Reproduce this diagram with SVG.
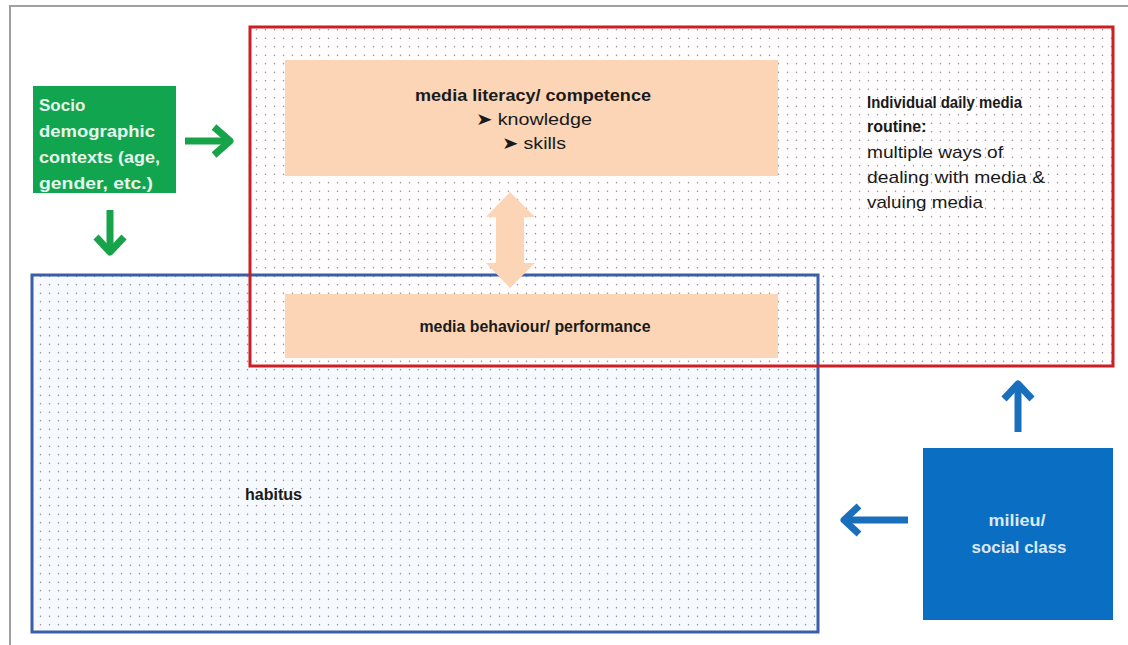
<svg xmlns="http://www.w3.org/2000/svg" width="1128" height="645" viewBox="0 0 1128 645">
<style>
  .t { font-family: "Liberation Sans", Arial, sans-serif; font-size: 16px; fill: #1a1a1a; }
  .b { font-weight: bold; }
  .w { font-weight: bold; font-size: 17px; }
  .g { stroke: #16a34a; stroke-width: 7; fill: none; stroke-linejoin: round; }
  .bl { stroke: #1a6fbd; stroke-width: 7; fill: none; stroke-linejoin: round; }
</style>
<defs>
  <pattern id="dots" width="9" height="8.5" patternUnits="userSpaceOnUse">
    <circle cx="4.5" cy="4.2" r="0.75" fill="#7a7a7a"/>
  </pattern>
</defs>
<rect width="1128" height="645" fill="#ffffff"/>
<path d="M10 645 V6 H1128" fill="none" stroke="#a0a0a0" stroke-width="2"/>

<g id="habitus">
  <rect x="32" y="275" width="786" height="357" fill="#f6f9fd"/>
  <rect x="32" y="275" width="786" height="357" fill="url(#dots)"/>
  <text class="t b" x="245" y="500">habitus</text>
</g>

<g id="routine">
  <rect x="250" y="27" width="863" height="339" fill="#fffdfd"/>
  <rect x="250" y="27" width="863" height="339" fill="url(#dots)"/>
  <text class="t b" x="867" y="108" textLength="155" lengthAdjust="spacingAndGlyphs">Individual daily media</text>
  <text class="t b" x="867" y="132">routine:</text>
  <text class="t" x="867" y="158" style="font-size:17px" textLength="136" lengthAdjust="spacingAndGlyphs">multiple ways of</text>
  <text class="t" x="867" y="183" style="font-size:17px" textLength="178" lengthAdjust="spacingAndGlyphs">dealing with media &amp;</text>
  <text class="t" x="867" y="208" style="font-size:17px" textLength="116" lengthAdjust="spacingAndGlyphs">valuing media</text>
</g>

<g id="borders">
  <rect x="32" y="275" width="786" height="357" fill="none" stroke="#3b5ea8" stroke-width="3"/>
  <rect x="250" y="27" width="863" height="339" fill="none" stroke="#cc1f24" stroke-width="3"/>
</g>

<g id="competence">
  <rect x="285" y="60" width="493" height="116" fill="#fbd5b5"/>
  <text class="t b" x="533" y="101" text-anchor="middle" style="font-size:17px" textLength="236" lengthAdjust="spacingAndGlyphs">media literacy/ competence</text>
  <text class="t" x="534" y="125" text-anchor="middle" style="font-size:17px" textLength="116" lengthAdjust="spacingAndGlyphs">➤  knowledge</text>
  <text class="t" x="534" y="149" text-anchor="middle" style="font-size:17px" textLength="64" lengthAdjust="spacingAndGlyphs">➤  skills</text>
</g>

<g id="performance">
  <rect x="285" y="294" width="493" height="64" fill="#fbd5b5"/>
  <text class="t b" x="535" y="332" text-anchor="middle" textLength="231" lengthAdjust="spacingAndGlyphs">media behaviour/ performance</text>
</g>

<g id="sociodemographic">
  <rect x="33" y="86" width="143" height="107" fill="#12a54f"/>
  <g class="t w" style="fill:#e6f5ec">
    <text x="39" y="111">Socio</text>
    <text x="39" y="137" textLength="116" lengthAdjust="spacingAndGlyphs">demographic</text>
    <text x="39" y="163" textLength="121" lengthAdjust="spacingAndGlyphs">contexts (age,</text>
    <text x="39" y="189" textLength="114" lengthAdjust="spacingAndGlyphs">gender, etc.)</text>
  </g>
</g>

<g id="milieu">
  <rect x="923" y="448" width="190" height="172" fill="#0a6fc2"/>
  <text class="t w" x="1017" y="526" text-anchor="middle" style="fill:#dbe9f6" textLength="57" lengthAdjust="spacingAndGlyphs">milieu/</text>
  <text class="t w" x="1019" y="553" text-anchor="middle" style="fill:#dbe9f6" textLength="95" lengthAdjust="spacingAndGlyphs">social class</text>
</g>

<g id="connectors">
  <path class="g" d="M185 141 H228"/>
  <path class="g" d="M214 127 L230 141 L214 155"/>
  <path class="g" d="M110 210 V250"/>
  <path class="g" d="M96 237 L110 252 L124 237"/>
  <path class="bl" d="M1018 432 V386"/>
  <path class="bl" d="M1004 399 L1018 384 L1032 399"/>
  <path class="bl" d="M908 520 H846"/>
  <path class="bl" d="M859 506 L844 520 L859 534"/>
  <path d="M510 192 L535 217 L524 217 L524 263 L535 263 L510 288 L486 263 L496 263 L496 217 L486 217 Z" fill="#fbd5b5"/>
</g>
</svg>
